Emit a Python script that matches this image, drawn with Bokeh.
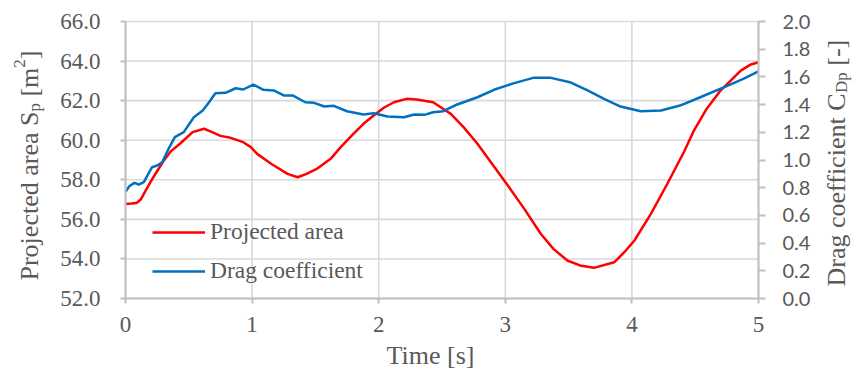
import math
from bokeh.plotting import figure
from bokeh.models import (Range1d, LinearAxis, FixedTicker, PrintfTickFormatter,
                          Label, Legend, LegendItem)
from bokeh.embed import file_html
from bokeh.resources import INLINE

# ---- data ----
time_area = [0.00, 0.05, 0.09, 0.12, 0.16, 0.22, 0.30, 0.36, 0.43, 0.53, 0.62, 0.68,
             0.75, 0.83, 0.93, 0.99, 1.04, 1.15, 1.28, 1.36, 1.43, 1.51, 1.62, 1.70,
             1.80, 1.88, 1.96, 2.04, 2.12, 2.22, 2.30, 2.43, 2.57, 2.67, 2.78, 3.01,
             3.15, 3.28, 3.38, 3.49, 3.59, 3.70, 3.86, 3.94, 4.02, 4.15, 4.28, 4.41,
             4.49, 4.59, 4.70, 4.86, 4.94, 5.00]
area = [56.78, 56.80, 56.84, 57.00, 57.46, 58.13, 58.95, 59.45, 59.82, 60.41, 60.58, 60.42,
        60.22, 60.12, 59.90, 59.65, 59.31, 58.81, 58.30, 58.13, 58.30, 58.55, 59.06, 59.65,
        60.32, 60.83, 61.25, 61.64, 61.92, 62.09, 62.06, 61.92, 61.33, 60.66, 59.82, 57.80,
        56.53, 55.27, 54.51, 53.92, 53.67, 53.55, 53.83, 54.34, 54.93, 56.28, 57.80, 59.39,
        60.49, 61.58, 62.51, 63.52, 63.83, 63.94]

time_cd = [0.00, 0.03, 0.07, 0.105, 0.145, 0.18, 0.21, 0.25, 0.29, 0.34, 0.39, 0.46,
           0.54, 0.61, 0.66, 0.71, 0.79, 0.87, 0.93, 1.01, 1.09, 1.17, 1.25, 1.32,
           1.42, 1.49, 1.57, 1.645, 1.75, 1.88, 1.96, 2.07, 2.20, 2.28, 2.36, 2.43,
           2.51, 2.62, 2.78, 2.91, 3.07, 3.22, 3.36, 3.51, 3.65, 3.78, 3.91, 4.07,
           4.23, 4.38, 4.54, 4.73, 4.88, 5.00]
cd = [0.77, 0.81, 0.835, 0.823, 0.84, 0.90, 0.948, 0.96, 0.984, 1.081, 1.165, 1.201,
      1.309, 1.357, 1.417, 1.482, 1.485, 1.518, 1.509, 1.545, 1.507, 1.502, 1.466, 1.466,
      1.417, 1.413, 1.386, 1.391, 1.352, 1.329, 1.338, 1.314, 1.309, 1.329, 1.326, 1.345,
      1.352, 1.401, 1.453, 1.507, 1.555, 1.593, 1.593, 1.562, 1.502, 1.442, 1.386, 1.352,
      1.357, 1.393, 1.453, 1.526, 1.586, 1.639]

x_ticks = [0, 1, 2, 3, 4, 5]
left_ticks = [52, 54, 56, 58, 60, 62, 64, 66]
right_ticks = [0.0, 0.2, 0.4, 0.6, 0.8, 1.0, 1.2, 1.4, 1.6, 1.8, 2.0]

series_names = ["Projected area", "Drag coefficient"]

TXT = "#595959"
AXC = "#bfbfbf"
GRID = "#d9d9d9"
SERIF = "Liberation Serif"

# ---- layout: canvas size and plot-area pixel box ----
W, H = 856, 370
PL, PR, PT, PB = 125, 758, 21, 298          # plot area in canvas pixels
X0, X1 = x_ticks[0], x_ticks[-1]
Y0, Y1 = left_ticks[0], left_ticks[-1]
C0, C1 = right_ticks[0], right_ticks[-1]

def extend(a, b, lo_px, hi_px, span_px):
    k = (b - a) / span_px
    return a - lo_px * k, b + hi_px * k

xr = extend(X0, X1, PL, W - PR, PR - PL)
yr = extend(Y0, Y1, H - PB, PT, PB - PT)
cr = extend(C0, C1, H - PB, PT, PB - PT)

# frame covers the whole canvas; axes are pinned to the plot-area edges
p = figure(width=W, height=H, output_backend="svg", toolbar_location=None,
           x_range=Range1d(*xr), y_range=Range1d(*yr),
           x_axis_location=None, y_axis_location=None,
           min_border=0, min_border_left=0, min_border_right=0,
           min_border_top=0, min_border_bottom=0)
p.extra_y_ranges = {"cd": Range1d(*cr)}
p.outline_line_color = None
p.background_fill_color = "white"
p.border_fill_color = "white"
p.grid.visible = False

# grid lines (from the tick arrays)
p.segment(x0=x_ticks, y0=[Y0] * len(x_ticks), x1=x_ticks, y1=[Y1] * len(x_ticks),
          line_color=GRID, line_width=1.6)
p.segment(x0=[X0] * len(left_ticks), y0=left_ticks, x1=[X1] * len(left_ticks),
          y1=left_ticks, line_color=GRID, line_width=1.6)

# axes
xa = LinearAxis(ticker=FixedTicker(ticks=x_ticks), fixed_location=Y0, bounds=(X0, X1))
ya = LinearAxis(ticker=FixedTicker(ticks=left_ticks), fixed_location=X0, bounds=(Y0, Y1),
                formatter=PrintfTickFormatter(format="%.1f"))
ra = LinearAxis(y_range_name="cd", ticker=FixedTicker(ticks=right_ticks),
                fixed_location=X1, bounds=(C0, C1),
                formatter=PrintfTickFormatter(format="%.1f"))
p.add_layout(xa, "below")
p.add_layout(ya, "left")
p.add_layout(ra, "right")

for ax in (xa, ya, ra):
    ax.axis_line_color = AXC
    ax.axis_line_width = 2
    ax.major_tick_line_color = AXC
    ax.major_tick_line_width = 2
    ax.major_tick_in = 0
    ax.minor_tick_line_color = None
    ax.major_label_text_color = TXT
    ax.major_label_text_font = SERIF
    ax.major_label_text_font_size = "23px"

xa.major_tick_out = 5
xa.major_label_standoff = 13
ya.major_tick_out = 5
ya.major_label_standoff = 20
ra.major_tick_out = 7
ra.major_label_standoff = 17
ra.major_label_text_font = "Lato"
ra.major_label_text_font_size = "20px"

# series
r_area = p.line(time_area, area, line_color="#ff0000", line_width=2.5)
r_cd = p.line(time_cd, cd, line_color="#0070c0", line_width=2.5, y_range_name="cd")

legend = Legend(items=[LegendItem(label=series_names[0], renderers=[r_area]),
                       LegendItem(label=series_names[1], renderers=[r_cd])],
                location=(152, 86), orientation="vertical",
                glyph_width=53, glyph_height=20, label_height=20, label_standoff=5,
                padding=0, margin=0, spacing=12,
                border_line_color=None, background_fill_alpha=0,
                label_text_font=SERIF, label_text_font_size="23.5px",
                label_text_color=TXT)
p.add_layout(legend)

# ---- axis titles with sub/superscripts (screen px from canvas bottom-left) ----
FS = 26
SFS = 17
SP = 0.25 * FS
A = math.pi / 2

def lab(text, px, py, size, angle=0.0, align="left"):
    p.add_layout(Label(x=px, y=H - py, x_units="screen", y_units="screen", text=text,
                       angle=angle, text_align=align, text_baseline="alphabetic",
                       text_font=SERIF, text_font_size=f"{size}px", text_color=TXT))

# left title: Projected area S_p [m^2]  (reads bottom to top)
lx = 29
py = 280.0
lab("Projected area S", lx, py, FS, A); py -= 6.498 * FS
lab("p", lx + 5, py, SFS, A);           py -= 0.5 * SFS + SP
lab("[m", lx, py, FS, A);               py -= 1.111 * FS
lab("2", lx - 10, py, SFS, A);          py -= 0.5 * SFS
lab("]", lx, py, FS, A)

# right title: Drag coefficient C_Dp [-]
rx = 836
py = 286.0
lab("Drag coefficient C", rx, py, FS, A); py -= 7.442 * FS
lab("Dp", rx + 5, py, SFS, A);            py -= 1.222 * SFS + SP
lab("[-]", rx, py, FS, A)

# bottom title
lab("Time [s]", 430, 355, FS, 0.0, align="center")

open("out.html", "w").write(file_html(p, INLINE))
